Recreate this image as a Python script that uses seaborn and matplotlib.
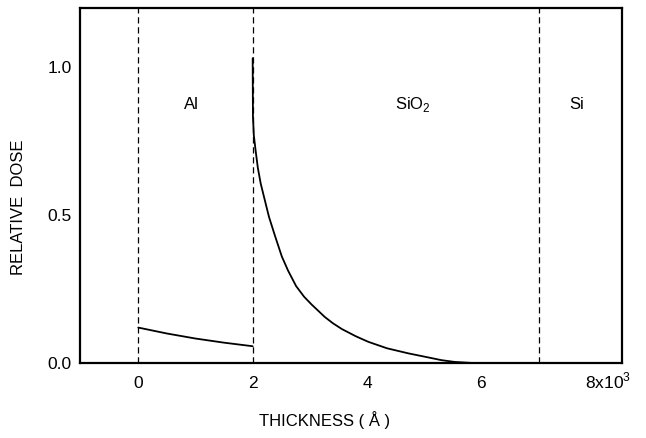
import matplotlib
matplotlib.use("Agg")
import matplotlib.pyplot as plt
import matplotlib.transforms as mtransforms
import seaborn as sns
import pandas as pd

# ---- data ----
al_x = [0.0, 0.5, 1.0, 1.5, 2.0]
al_y = [0.12, 0.10, 0.083, 0.069, 0.057]
sio2_x = [2.0, 2.002, 2.005, 2.02, 2.05, 2.09, 2.14, 2.2, 2.285, 2.39, 2.51, 2.62,
          2.76, 2.9, 3.03, 3.26, 3.4, 3.56, 3.8, 4.02, 4.35, 4.72, 5.1, 5.3, 5.53, 5.88]
sio2_y = [1.03, 0.93, 0.832, 0.77, 0.72, 0.66, 0.607, 0.56, 0.494, 0.43, 0.36, 0.312,
          0.26, 0.224, 0.198, 0.156, 0.135, 0.115, 0.091, 0.072, 0.05, 0.033, 0.018,
          0.01, 0.004, 0.0]
boundaries = [0, 2, 7]
layer_names = ["Al", "SiO$_2$", "Si"]
x_ticks = [0, 2, 4, 6, 8]
x_tick_labels = ["0", "2", "4", "6", "8x10$^3$"]
y_ticks = [0.0, 0.5, 1.0]
y_tick_labels = ["0.0", "0.5", "1.0"]

sns.set_style("white")
plt.rcParams["font.family"] = ["Liberation Sans", "DejaVu Sans"]
plt.rcParams["mathtext.fontset"] = "custom"
plt.rcParams["mathtext.rm"] = "Liberation Sans"
plt.rcParams["text.color"] = "black"
plt.rcParams["axes.labelcolor"] = "black"

fig = plt.figure(figsize=(6.46, 4.38), dpi=100)
ax = fig.add_axes([0.1238, 0.171, 0.8392, 0.811])

df_al = pd.DataFrame({"x": al_x, "y": al_y})
df_si = pd.DataFrame({"x": sio2_x, "y": sio2_y})
sns.lineplot(data=df_al, x="x", y="y", ax=ax, color="black", lw=1.3,
             estimator=None, sort=False)
sns.lineplot(data=df_si, x="x", y="y", ax=ax, color="black", lw=1.3,
             estimator=None, sort=False)

for b in boundaries:
    ax.axvline(b, color="black", lw=0.9, ls=(0, (5, 3)))

label_pos = [(0.93, 0.875), (4.8, 0.875), (7.66, 0.875)]
for name, (px, py) in zip(layer_names, label_pos):
    ax.text(px, py, name, ha="center", va="center", fontsize=12, color="black")

ax.set_xlim(-1.02, 8.46)
ax.set_ylim(0, 1.2)
ax.set_xticks(x_ticks)
ax.set_xticklabels(x_tick_labels)
ax.set_yticks(y_ticks)
ax.set_yticklabels(y_tick_labels)

ax.tick_params(axis="both", direction="in", length=6, width=1.5, labelsize=12.5,
               colors="black")
ax.tick_params(axis="x", pad=9)
ax.tick_params(axis="y", pad=6)

last = ax.get_xticklabels()[-1]
last.set_horizontalalignment("left")
last.set_verticalalignment("baseline")
last.set_transform(last.get_transform() +
                   mtransforms.ScaledTranslation(-11 / 100, -12.5 / 100,
                                                 fig.dpi_scale_trans))

for s in ax.spines.values():
    s.set_visible(True)
    s.set_color("black")
    s.set_linewidth(1.6)

ax.set_xlabel("THICKNESS ( Å )", fontsize=12)
ax.set_ylabel("RELATIVE  DOSE", fontsize=12)
ax.xaxis.set_label_coords(0.452, -0.135)
ax.yaxis.set_label_coords(-0.10, 0.438)

fig.savefig("out.png", dpi=100)
